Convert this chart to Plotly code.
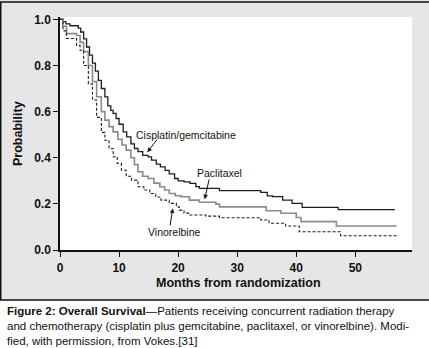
import plotly.graph_objects as go

# Cisplatin/gemcitabine (solid black)
cg_months = [0, 0.5, 1.0, 1.7, 3.1, 3.5, 4.0, 4.5, 5.0, 5.5, 6.0, 6.5, 7.0, 7.6, 8.1, 8.6, 9.0, 9.5,
             10.0, 10.7, 11.3, 12.0, 12.6, 13.2, 14.0, 14.9, 15.5, 16.3, 17.0, 17.8, 18.5, 19.4,
             20.0, 21.0, 22.0, 23.0, 23.6, 27.0, 34.0, 35.1, 36.0, 37.7, 39.3, 41.0, 47.1, 56.7]
cg_surv = [1.0, 0.99, 0.98, 0.972, 0.962, 0.945, 0.915, 0.88, 0.845, 0.81, 0.775, 0.735, 0.70, 0.664,
           0.625, 0.605, 0.592, 0.57, 0.545, 0.512, 0.49, 0.46, 0.44, 0.426, 0.41, 0.404, 0.39, 0.372,
           0.36, 0.345, 0.33, 0.31, 0.30, 0.295, 0.289, 0.275, 0.267, 0.257, 0.25, 0.235, 0.231,
           0.216, 0.202, 0.185, 0.175, 0.175]

# Paclitaxel (solid gray)
pac_months = [0, 0.5, 1.1, 2.8, 3.4, 4.0, 4.8, 5.5, 6.2, 7.0, 7.6, 8.3, 9.0, 9.8, 10.5, 11.2, 12.0,
              12.6, 13.2, 14.0, 14.9, 15.9, 16.9, 17.7, 18.5, 19.5, 20.5, 21.9, 23.6, 26.4, 27.0,
              34.9, 37.4, 40.0, 40.8, 46.8, 57.0]
pac_surv = [1.0, 0.97, 0.938, 0.93, 0.90, 0.86, 0.80, 0.73, 0.664, 0.60, 0.563, 0.535, 0.512, 0.48,
            0.455, 0.433, 0.40, 0.37, 0.339, 0.32, 0.31, 0.29, 0.274, 0.26, 0.245, 0.235, 0.231,
            0.216, 0.207, 0.199, 0.187, 0.17, 0.159, 0.141, 0.123, 0.104, 0.104]

# Vinorelbine (dashed black)
vin_months = [0, 0.5, 1.1, 2.8, 3.4, 4.0, 4.8, 5.5, 6.2, 7.0, 7.6, 8.3, 9.0, 9.7, 10.4, 11.2, 12.1,
              13.2, 14.2, 15.2, 16.2, 17.1, 18.5, 19.7, 20.2, 21.0, 21.9, 24.7, 27.0, 34.0, 35.4,
              38.2, 40.5, 47.5, 57.0]
vin_surv = [1.0, 0.95, 0.917, 0.887, 0.866, 0.80, 0.72, 0.65, 0.575, 0.51, 0.476, 0.44, 0.404, 0.375,
            0.346, 0.32, 0.303, 0.274, 0.26, 0.245, 0.23, 0.216, 0.202, 0.187, 0.173, 0.16, 0.152,
            0.147, 0.14, 0.13, 0.116, 0.104, 0.079, 0.062, 0.062]

x_ticks = [0, 10, 20, 30, 40, 50]
y_ticks = [0.0, 0.2, 0.4, 0.6, 0.8, 1.0]

FONT = "Liberation Sans, Arial, Helvetica, sans-serif"
W, H = 429, 348
ML, MR, MT, MB = 60, 17, 17, 98
PW, PH = W - ML - MR, H - MT - MB


def px(xp):
    return (xp - ML) / PW


def py(yp):
    return (H - MB - yp) / PH


fig = go.Figure()
fig.add_trace(go.Scatter(x=cg_months, y=cg_surv, mode="lines", line_shape="hv",
                         line=dict(color="#1e1e1e", width=1.3), showlegend=False))
fig.add_trace(go.Scatter(x=pac_months, y=pac_surv, mode="lines", line_shape="hv",
                         line=dict(color="#8a8a8a", width=1.6), showlegend=False))
fig.add_trace(go.Scatter(x=vin_months, y=vin_surv, mode="lines", line_shape="hv",
                         line=dict(color="#1e1e1e", width=1.1, dash="3px,2px"), showlegend=False))

GREY = "#e6e6e6"
BOT = 300
shapes = [
    # white caption area below the grey panel
    dict(type="rect", xref="paper", yref="paper", x0=px(-5), x1=px(W + 5), y0=py(H + 5), y1=py(BOT),
         fillcolor="white", line=dict(width=0), layer="below"),
    # border lines
    dict(type="line", xref="paper", yref="paper", x0=px(0), x1=px(W + 2), y0=py(2), y1=py(2),
         line=dict(color="#111", width=1.5)),
    dict(type="line", xref="paper", yref="paper", x0=px(0.75), x1=px(0.75), y0=py(2), y1=py(BOT),
         line=dict(color="#111", width=1.5)),
    dict(type="line", xref="paper", yref="paper", x0=px(0), x1=px(W + 2), y0=py(BOT), y1=py(BOT),
         line=dict(color="#111", width=1.5)),
]

ann = []
lbl_font = dict(family=FONT, size=10.5, color="#111")
ann.append(dict(x=21.4, y=0.498, xref="x", yref="y", text="Cisplatin/gemcitabine", showarrow=False,
                font=lbl_font))
ann.append(dict(x=14.8, y=0.424, ax=16.6, ay=0.485, xref="x", yref="y", axref="x", ayref="y", text="",
                showarrow=True, arrowhead=2, arrowsize=0.9, arrowwidth=1, arrowcolor="#111"))
ann.append(dict(x=27.0, y=0.333, xref="x", yref="y", text="Paclitaxel", showarrow=False, font=lbl_font))
ann.append(dict(x=24.5, y=0.22, ax=25.3, ay=0.312, xref="x", yref="y", axref="x", ayref="y", text="",
                showarrow=True, arrowhead=2, arrowsize=0.9, arrowwidth=1, arrowcolor="#111"))
ann.append(dict(x=19.4, y=0.08, xref="x", yref="y", text="Vinorelbine", showarrow=False, font=lbl_font))
ann.append(dict(x=19.1, y=0.18, ax=18.6, ay=0.1, xref="x", yref="y", axref="x", ayref="y", text="",
                showarrow=True, arrowhead=2, arrowsize=0.9, arrowwidth=1, arrowcolor="#111"))

# axis titles
ann.append(dict(x=px(238), y=py(283), xref="paper", yref="paper", xanchor="center", yanchor="middle",
                text="<b>Months from randomization</b>",
                showarrow=False, font=dict(family=FONT, size=12.5, color="#111")))
ann.append(dict(x=px(18), y=py(134), xref="paper", yref="paper", xanchor="center", yanchor="middle",
                text="<b>Probability</b>", textangle=-90,
                showarrow=False, font=dict(family=FONT, size=12.5, color="#111")))

# caption
caption = ("<b>Figure 2: Overall Survival</b>\u2014Patients receiving concurrent radiation therapy<br>"
           "and chemotherapy (cisplatin plus gemcitabine, paclitaxel, or vinorelbine). Modi-<br>"
           "fied, with permission, from Vokes.[31]")
ann.append(dict(x=px(5), y=py(303), xref="paper", yref="paper", xanchor="left", yanchor="top",
                text=caption, showarrow=False, align="left",
                font=dict(family=FONT, size=11.5, color="#111")))

fig.update_layout(
    width=W, height=H,
    margin=dict(l=ML, r=MR, t=MT, b=MB, pad=0),
    paper_bgcolor=GREY, plot_bgcolor="white",
    shapes=shapes, annotations=ann,
    font=dict(family=FONT, color="#111"),
)
fig.update_xaxes(range=[0, 59.6], tickvals=x_ticks, ticktext=[f"<b>{v}</b>" for v in x_ticks],
                 showgrid=False, zeroline=False, showline=True, linecolor="#111", linewidth=1.5,
                 ticks="outside", ticklen=5, tickwidth=1.3, tickcolor="#111", ticklabelstandoff=1,
                 tickfont=dict(family=FONT, size=12, color="#111"))
fig.update_yaxes(range=[0, 1.01], tickvals=y_ticks, ticktext=[f"<b>{v:.1f}</b>" for v in y_ticks],
                 showgrid=False, zeroline=False, showline=True, linecolor="#111", linewidth=1.5,
                 ticks="outside", ticklen=5, tickwidth=1.3, tickcolor="#111",
                 tickfont=dict(family=FONT, size=12, color="#111"))

fig.write_html("out.html")
